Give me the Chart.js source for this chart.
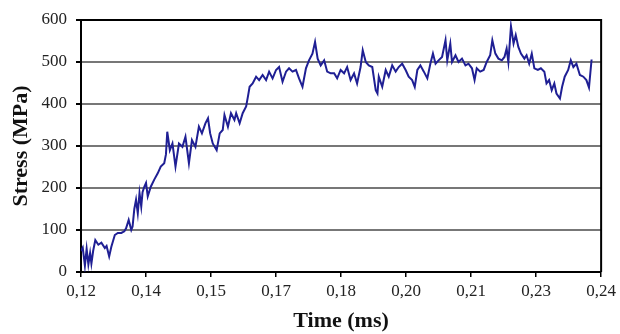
<!DOCTYPE html>
<html>
<head>
<meta charset="utf-8">
<script src="https://cdn.jsdelivr.net/npm/chart.js@4.4.1/dist/chart.umd.min.js"></script>
<style>
  html, body { margin: 0; padding: 0; background: #fff; }
  #wrap { width: 620px; height: 334px; }
</style>
</head>
<body>
<div id="wrap"><canvas id="myChart" width="620" height="334"></canvas></div>
<script>
  // time (ms) and stress (MPa)
  const times = [
    0.1200, 0.1204, 0.1209, 0.1213, 0.1217, 0.1221, 0.1224, 0.1228, 0.1233, 0.1240,
    0.1247, 0.1255, 0.1259, 0.1265, 0.1270, 0.1278, 0.1285, 0.1293, 0.1300, 0.1304,
    0.1310, 0.1316, 0.1319, 0.1323, 0.1327, 0.1331, 0.1335, 0.1339, 0.1342, 0.1346,
    0.1350, 0.1354, 0.1361, 0.1369, 0.1377, 0.1384, 0.1392, 0.1396, 0.1399, 0.1405,
    0.1411, 0.1418, 0.1426, 0.1434, 0.1441, 0.1449, 0.1456, 0.1464, 0.1472, 0.1479,
    0.1487, 0.1493, 0.1498, 0.1504, 0.1513, 0.1520, 0.1527, 0.1531, 0.1539, 0.1546,
    0.1554, 0.1558, 0.1566, 0.1573, 0.1581, 0.1585, 0.1589, 0.1596, 0.1604, 0.1611,
    0.1619, 0.1627, 0.1634, 0.1642, 0.1650, 0.1657, 0.1665, 0.1673, 0.1680, 0.1688,
    0.1696, 0.1703, 0.1711, 0.1719, 0.1726, 0.1734, 0.1740, 0.1746, 0.1753, 0.1761,
    0.1768, 0.1776, 0.1784, 0.1791, 0.1799, 0.1807, 0.1814, 0.1822, 0.1830, 0.1837,
    0.1845, 0.1850, 0.1857, 0.1864, 0.1872, 0.1880, 0.1884, 0.1887, 0.1895, 0.1903,
    0.1910, 0.1918, 0.1926, 0.1933, 0.1941, 0.1949, 0.1956, 0.1964, 0.1970, 0.1976,
    0.1983, 0.1991, 0.1999, 0.2006, 0.2012, 0.2018, 0.2025, 0.2033, 0.2041, 0.2045,
    0.2052, 0.2056, 0.2064, 0.2071, 0.2079, 0.2087, 0.2094, 0.2102, 0.2108, 0.2113,
    0.2121, 0.2129, 0.2136, 0.2144, 0.2149, 0.2156, 0.2163, 0.2171, 0.2177, 0.2182,
    0.2186, 0.2192, 0.2198, 0.2203, 0.2209, 0.2215, 0.2223, 0.2228, 0.2234, 0.2240,
    0.2246, 0.2254, 0.2261, 0.2269, 0.2274, 0.2280, 0.2286, 0.2292, 0.2297, 0.2305,
    0.2310, 0.2316, 0.2324, 0.2330, 0.2336, 0.2343, 0.2351, 0.2359, 0.2366, 0.2372,
    0.2378
  ];
  const stress = [
    50, 58, 15, 55, 18, 45, 20, 50, 76, 65,
    70, 57, 62, 37, 60, 88, 93, 93, 97, 104,
    124, 100, 108, 150, 172, 140, 188, 156, 190, 203,
    212, 180, 203, 220, 235, 251, 259, 280, 334, 290,
    306, 251, 306, 298, 322, 259, 314, 298, 346, 330,
    354, 366, 330, 306, 290, 330, 338, 374, 346, 378,
    362, 378, 354, 378, 394, 417, 441, 449, 465, 457,
    469, 457, 477, 461, 481, 488, 453, 477, 485, 477,
    481, 461, 441, 485, 504, 520, 548, 508, 492, 504,
    477, 473, 473, 461, 481, 473, 488, 457, 473, 449,
    488, 528, 500, 492, 488, 433, 425, 465, 441, 481,
    465, 492, 477, 488, 496, 481, 465, 457, 441, 481,
    492, 477, 461, 496, 520, 496, 504, 512, 552, 504,
    544, 500, 516, 500, 508, 492, 496, 485, 457, 485,
    477, 481, 500, 516, 552, 520, 508, 504, 512, 532,
    500, 585, 544, 564, 536, 520, 508, 516, 496, 520,
    485, 481, 485, 477, 449, 457, 433, 449, 425, 413,
    441, 465, 481, 504, 488, 496, 469, 465, 457, 439,
    506
  ];
  const xTickValues = [0.12, 0.135, 0.15, 0.165, 0.18, 0.195, 0.21, 0.225, 0.24];
  const xTickLabels = ['0,12', '0,14', '0,15', '0,17', '0,18', '0,20', '0,21', '0,23', '0,24'];

  const points = times.map((t, i) => ({ x: t, y: stress[i] }));

  // top and right edges of the plot frame
  const frame = {
    id: 'frame',
    beforeDatasetsDraw(chart) {
      const { ctx, chartArea: a } = chart;
      ctx.save();
      ctx.strokeStyle = '#000';
      ctx.lineWidth = 2;
      ctx.beginPath();
      ctx.moveTo(a.left, a.top);
      ctx.lineTo(a.right, a.top);
      ctx.lineTo(a.right, a.bottom);
      ctx.stroke();
      ctx.restore();
    }
  };

  const serif = 'Liberation Serif, Times New Roman, serif';

  new Chart(document.getElementById('myChart'), {
    type: 'line',
    data: {
      datasets: [{
        data: points,
        borderColor: '#1f1f94',
        borderWidth: 2,
        pointRadius: 0,
        tension: 0,
        fill: false
      }]
    },
    options: {
      responsive: false,
      animation: false,
      layout: { padding: { left: 0, right: 17, top: 20, bottom: 0 } },
      plugins: { legend: { display: false }, tooltip: { enabled: false } },
      scales: {
        x: {
          type: 'linear',
          min: 0.12,
          max: 0.24,
          afterBuildTicks: s => { s.ticks = xTickValues.map(v => ({ value: v })); },
          afterFit: s => { s.height = 62; },
          ticks: {
            callback: (v, i) => xTickLabels[i],
            font: { family: serif, size: 17 },
            color: '#222',
            padding: 4,
            maxRotation: 0,
            autoSkip: false
          },
          grid: { drawOnChartArea: false, drawTicks: true, tickLength: 5, color: '#000', lineWidth: 1.5 },
          border: { display: true, color: '#000', width: 2 },
          title: {
            display: true,
            text: 'Time (ms)',
            font: { family: serif, size: 22, weight: 'bold' },
            color: '#111',
            padding: { top: 0, bottom: -1 }
          }
        },
        y: {
          min: 0,
          max: 600,
          ticks: {
            stepSize: 100,
            font: { family: serif, size: 17 },
            color: '#222',
            padding: 9
          },
          afterFit: s => { s.width = 81; },
          grid: { color: '#777', lineWidth: 2, tickLength: 5, tickColor: '#000' },
          border: { display: true, color: '#000', width: 2 },
          title: {
            display: true,
            text: 'Stress (MPa)',
            font: { family: serif, size: 22, weight: 'bold' },
            color: '#111',
            padding: { top: 8, bottom: 0 }
          }
        }
      }
    },
    plugins: [frame]
  });
</script>
</body>
</html>
